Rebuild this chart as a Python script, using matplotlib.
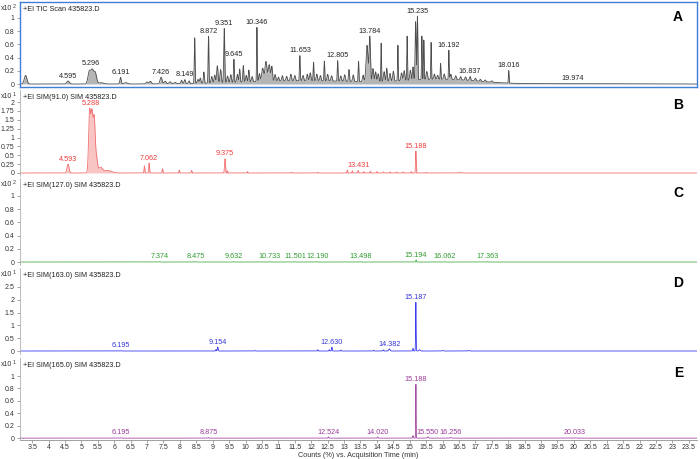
import numpy as np
import matplotlib
matplotlib.use("Agg")
import matplotlib.pyplot as plt
from matplotlib.ticker import FuncFormatter

plt.rcParams['font.family'] = ['Liberation Sans', 'DejaVu Sans']

W, H = 700, 459
X_MIN, X_MAX = 3.13, 23.75

# ---- peak tables: (time min, height, sigma min) ----
tic_peaks = [
    (3.30, 0.13, 0.04), (4.595, 0.045, 0.04),
    (5.24, 0.19, 0.04), (5.33, 0.20, 0.04), (5.42, 0.17, 0.04), (5.60, 0.02, 0.08),
    (6.191, 0.10, 0.02), (6.35, 0.02, 0.05), (7.00, 0.03, 0.03), (7.10, 0.04, 0.03),
    (7.426, 0.10, 0.03), (7.55, 0.04, 0.03), (7.70, 0.03, 0.03), (7.85, 0.02, 0.03),
    (8.05, 0.05, 0.02), (8.149, 0.06, 0.02), (8.28, 0.04, 0.02),
    (8.45, 0.69, 0.012), (8.55, 0.06, 0.02), (8.62, 0.08, 0.02), (8.73, 0.17, 0.015),
    (8.872, 0.71, 0.012), (8.97, 0.10, 0.02), (9.06, 0.12, 0.02), (9.14, 0.26, 0.02),
    (9.24, 0.20, 0.02), (9.351, 0.82, 0.015), (9.45, 0.10, 0.02), (9.55, 0.12, 0.02),
    (9.645, 0.35, 0.012), (9.75, 0.12, 0.02), (9.82, 0.20, 0.015), (9.93, 0.25, 0.015),
    (10.02, 0.10, 0.02), (10.10, 0.18, 0.015), (10.20, 0.08, 0.02),
    (10.346, 0.82, 0.01), (10.42, 0.12, 0.02), (10.52, 0.20, 0.03), (10.62, 0.30, 0.03),
    (10.72, 0.25, 0.03), (10.80, 0.22, 0.02), (10.90, 0.10, 0.02),
    (11.00, 0.06, 0.02), (11.12, 0.08, 0.02), (11.25, 0.07, 0.02), (11.38, 0.10, 0.02),
    (11.50, 0.08, 0.02), (11.653, 0.38, 0.012), (11.75, 0.08, 0.02), (11.88, 0.10, 0.02),
    (11.97, 0.12, 0.02), (12.07, 0.28, 0.012), (12.17, 0.10, 0.02), (12.28, 0.08, 0.02),
    (12.40, 0.30, 0.012), (12.50, 0.10, 0.02), (12.62, 0.08, 0.02), (12.805, 0.31, 0.012),
    (12.90, 0.08, 0.02), (13.02, 0.10, 0.02), (13.15, 0.18, 0.015), (13.28, 0.10, 0.02),
    (13.44, 0.31, 0.012), (13.58, 0.10, 0.02), (13.70, 0.55, 0.03), (13.784, 0.68, 0.02),
    (13.88, 0.20, 0.02), (13.96, 0.15, 0.02), (14.04, 0.12, 0.02), (14.13, 0.58, 0.01),
    (14.22, 0.15, 0.02), (14.30, 0.20, 0.015), (14.40, 0.12, 0.02), (14.50, 0.15, 0.02),
    (14.64, 0.54, 0.01), (14.75, 0.12, 0.02), (14.83, 0.15, 0.02), (14.92, 0.67, 0.01),
    (15.02, 0.15, 0.02), (15.10, 0.20, 0.015), (15.18, 0.88, 0.015), (15.235, 0.96, 0.012),
    (15.37, 0.66, 0.01), (15.43, 0.60, 0.01), (15.52, 0.12, 0.02), (15.65, 0.56, 0.01),
    (15.75, 0.08, 0.02), (15.85, 0.06, 0.02), (15.94, 0.24, 0.01), (16.05, 0.08, 0.02),
    (16.192, 0.44, 0.01), (16.25, 0.08, 0.02), (16.40, 0.06, 0.02), (16.55, 0.05, 0.02),
    (16.70, 0.05, 0.02), (16.837, 0.06, 0.02), (17.00, 0.04, 0.02), (17.15, 0.03, 0.02),
    (17.30, 0.025, 0.02), (17.50, 0.02, 0.02), (18.016, 0.19, 0.01),
    # slow baseline drift under the grass
    (11.8, 0.05, 1.8), (15.6, 0.055, 0.9), (16.8, 0.03, 0.8), (19.974, 0.006, 1.5),
]
tic_labels = ["4.595", "5.296", "6.191", "7.426", "8.149", "8.872", "9.351", "9.645",
              "10.346", "11.653", "12.805", "13.784", "15.235", "16.192", "16.837",
              "18.016", "19.974"]

sim91_peaks = [
    (4.593, 0.25, 0.03), (5.25, 1.70, 0.03), (5.32, 1.60, 0.03), (5.39, 1.50, 0.03),
    (5.46, 0.40, 0.03), (5.58, 0.15, 0.06), (5.80, 0.07, 0.12),
    (6.92, 0.20, 0.012), (7.062, 0.28, 0.012),
    (7.47, 0.12, 0.01), (7.98, 0.08, 0.01), (8.36, 0.07, 0.01), (9.375, 0.40, 0.015),
    (9.45, 0.06, 0.01), (10.06, 0.04, 0.01), (11.40, 0.02, 0.01), (12.20, 0.02, 0.01),
    (13.10, 0.08, 0.01), (13.25, 0.06, 0.01), (13.431, 0.07, 0.01), (13.60, 0.04, 0.01),
    (13.80, 0.05, 0.01), (14.00, 0.04, 0.01), (14.20, 0.03, 0.01), (14.40, 0.03, 0.01),
    (14.60, 0.03, 0.01), (14.80, 0.03, 0.01), (15.05, 0.04, 0.01), (15.188, 0.62, 0.01),
    (15.50, 0.015, 0.02), (16.50, 0.01, 0.05),
]
sim91_labels = ["4.593", "5.288", "7.062", "9.375", "13.431", "15.188"]

sim127_peaks = [
    (7.374, 0.006, 0.01), (8.475, 0.006, 0.01), (9.632, 0.006, 0.01), (10.733, 0.006, 0.01),
    (11.501, 0.006, 0.01), (12.190, 0.006, 0.01), (13.498, 0.006, 0.01),
    (15.194, 0.03, 0.01), (16.062, 0.006, 0.01), (17.363, 0.006, 0.01),
]
sim127_labels = ["7.374", "8.475", "9.632", "10.733", "11.501", "12.190", "13.498",
                 "15.194", "16.062", "17.363"]

sim163_peaks = [
    (6.195, 0.01, 0.02), (9.10, 0.06, 0.01), (9.154, 0.15, 0.012), (10.30, 0.02, 0.01),
    (12.20, 0.05, 0.01), (12.55, 0.05, 0.01), (12.630, 0.15, 0.01), (12.90, 0.04, 0.01),
    (13.90, 0.03, 0.01), (14.20, 0.04, 0.01), (14.382, 0.08, 0.02), (15.10, 0.10, 0.01),
    (15.187, 1.90, 0.008), (15.30, 0.05, 0.02), (16.00, 0.02, 0.02), (16.80, 0.02, 0.02),
]
sim163_labels = ["6.195", "9.154", "12.630", "14.382", "15.187"]

sim165_peaks = [
    (6.195, 0.005, 0.02), (8.875, 0.01, 0.01), (12.524, 0.02, 0.01), (14.020, 0.02, 0.01),
    (15.10, 0.04, 0.01), (15.188, 0.87, 0.006), (15.550, 0.02, 0.02), (16.256, 0.01, 0.02),
    (20.033, 0.004, 0.02),
]
sim165_labels = ["6.195", "8.875", "12.524", "14.020", "15.188", "15.550", "16.256", "20.033"]

x_ticks = np.arange(3.5, 23.51, 0.5)

# panel specs: header, exponent, peaks, labels, colours, y ticks, ylim, box (top px, bottom px)
panels = [
    ("+EI TIC Scan 435823.D", "2", tic_peaks, tic_labels, "#4d4d4d", "#b5b5b5", "#222222",
     [0, 0.2, 0.4, 0.6, 0.8, 1], (-0.045, 1.24), (2, 87), "A"),
    ("+EI SIM(91.0) SIM 435823.D", "1", sim91_peaks, sim91_labels, "#f27070", "#f9c4c4", "#f03c3c",
     [0, 0.25, 0.5, 0.75, 1, 1.25, 1.5, 1.75, 2], (-0.085, 2.34), (90, 176), "B"),
    ("+EI SIM(127.0) SIM 435823.D", "2", sim127_peaks, sim127_labels, "#4cae4c", None, "#2f9a2f",
     [0, 0.2, 0.4, 0.6, 0.8, 1], (-0.045, 1.27), (178, 265), "C"),
    ("+EI SIM(163.0) SIM 435823.D", "1", sim163_peaks, sim163_labels, "#3b3bf0", None, "#3535d8",
     [0, 0.5, 1, 1.5, 2, 2.5], (-0.117, 3.24), (268, 354), "D"),
    ("+EI SIM(165.0) SIM 435823.D", "1", sim165_peaks, sim165_labels, "#a64ca6", None, "#9a3a9a",
     [0, 0.2, 0.4, 0.6, 0.8, 1], (-0.03, 1.29), (358, 440), "E"),
]


def trace(t, peaks):
    y = np.zeros_like(t)
    for c, h, s in peaks:
        y += h * np.exp(-0.5 * ((t - c) / s) ** 2)
    return y


fig = plt.figure(figsize=(W / 100, H / 100), dpi=100)
t = np.linspace(X_MIN, X_MAX, 12000)
left, right = 20, 697
fmt = FuncFormatter(lambda v, p: "%g" % v)

for i, (head, expo, peaks, labels, lc, fc, tc, yt, ylim, (top, bot), letter) in enumerate(panels):
    ax = fig.add_axes([left / W, 1 - bot / H, (right - left) / W, (bot - top) / H])
    y = trace(t, peaks)
    if fc:
        ax.fill_between(t, 0, y, color=fc, lw=0)
    ax.plot(t, y, color=lc, lw=0.6)
    ax.set_xlim(X_MIN, X_MAX)
    ax.set_ylim(*ylim)
    ax.set_yticks(yt)
    ax.yaxis.set_major_formatter(fmt)
    ax.tick_params(axis='y', labelsize=5, length=2.5, width=0.5, color="#808080",
                   pad=1.5, labelcolor="#333333")
    for lab in labels:
        tl = float(lab)
        m = (t > tl - 0.04) & (t < tl + 0.04)
        ax.annotate(lab, (tl, y[m].max()), xytext=(0, 1.0), textcoords='offset points',
                    ha='center', va='bottom', fontsize=5.2, color=tc)
    if i == 0:
        for s in ax.spines.values():
            s.set_color("#3f7fd6")
            s.set_linewidth(1.0)
    else:
        for s in ("top", "right"):
            ax.spines[s].set_visible(False)
        ax.spines["left"].set_color("#b0b0b0")
        ax.spines["left"].set_linewidth(0.6)
        ax.spines["bottom"].set_visible(i == len(panels) - 1)
        ax.spines["bottom"].set_color("#909090")
        ax.spines["bottom"].set_linewidth(0.6)
    if i == len(panels) - 1:
        ax.set_xticks(x_ticks)
        ax.xaxis.set_major_formatter(fmt)
        ax.tick_params(axis='x', labelsize=5, length=2, width=0.5, color="#808080",
                       pad=1, labelcolor="#333333")
        ax.set_xlabel("Counts (%) vs. Acquisition Time (min)", fontsize=5.2,
                      color="#333333", labelpad=0.5)
    else:
        ax.set_xticks([])
    # header texts
    fig.text(1 / W, 1 - (top + 8.5) / H, "x10", fontsize=5, color="#333333", va='baseline')
    fig.text(13 / W, 1 - (top + 6.5) / H, expo, fontsize=3.8, color="#333333", va='baseline')
    fig.text(23 / W, 1 - (top + 9) / H, head, fontsize=5.2, color="#222222", va='baseline')
    fig.text(683 / W, 1 - (top + 15) / H, letter, fontsize=10, fontweight='bold',
             ha='right', va='center', color="black")

fig.savefig("out.png", dpi=100)
